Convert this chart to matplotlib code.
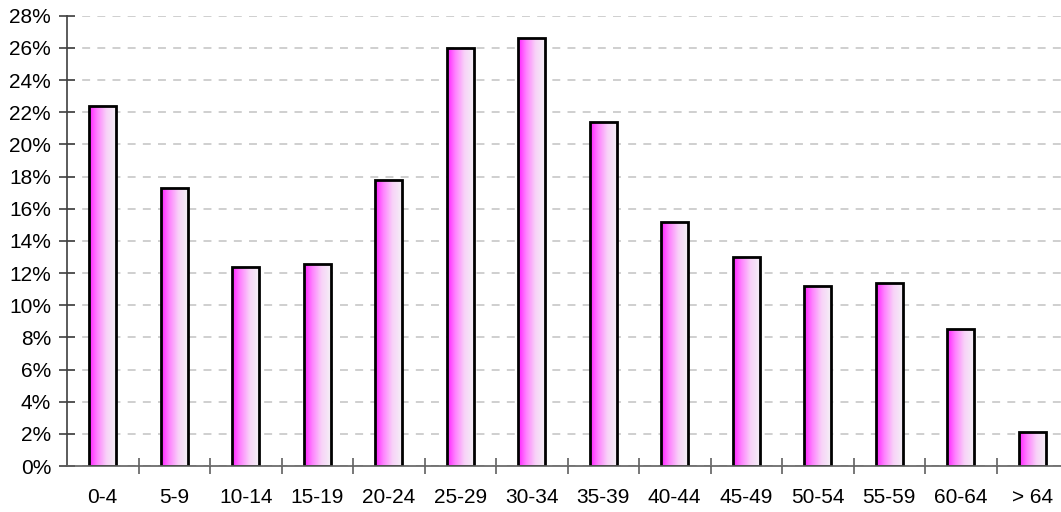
import matplotlib
matplotlib.use("Agg")
import matplotlib.pyplot as plt
import numpy as np
from matplotlib.colors import LinearSegmentedColormap
from matplotlib.patches import Rectangle
from matplotlib.ticker import FixedLocator, FuncFormatter

# Share of each age group (percent)
age_groups = ["0-4", "5-9", "10-14", "15-19", "20-24", "25-29", "30-34",
              "35-39", "40-44", "45-49", "50-54", "55-59", "60-64", "> 64"]
shares = [22.4, 17.3, 12.4, 12.55, 17.8, 26.0, 26.6,
          21.4, 15.2, 13.0, 11.2, 11.4, 8.5, 2.1]
y_ticks = list(range(0, 29, 2))

plt.rcParams["font.family"] = ["Liberation Sans", "DejaVu Sans"]

fig = plt.figure(figsize=(10.61, 5.12), dpi=100)
ax = fig.add_axes([67 / 1061, 46 / 512, 1001 / 1061, 450.3 / 512])

x = np.arange(len(age_groups))
bar_w = 0.375

# magenta-to-white horizontal gradient used inside every bar
grad_cmap = LinearSegmentedColormap.from_list(
    "bar_grad",
    [(0.0, "#ff1eff"), (0.3, "#ff80ff"), (0.65, "#f8d2f8"), (1.0, "#f4f0f6")])
grad = np.linspace(0, 1, 256).reshape(1, -1)

for xi, val in zip(x, shares):
    x0 = xi - bar_w / 2
    im = ax.imshow(grad, cmap=grad_cmap, aspect="auto",
                   extent=(x0, x0 + bar_w, 0, val), zorder=3,
                   interpolation="bilinear")
    rect = Rectangle((x0, 0), bar_w, val, facecolor="none",
                     edgecolor="black", linewidth=2.0, zorder=4)
    ax.add_patch(rect)
    im.set_clip_path(rect)

ax.set_xlim(-0.5, len(age_groups) - 0.5)
ax.set_ylim(0, 28)

# y axis
ax.yaxis.set_major_locator(FixedLocator(y_ticks))
ax.yaxis.set_major_formatter(FuncFormatter(lambda v, p: f"{int(v)}%"))
ax.tick_params(axis="y", direction="inout", length=12, width=1.2,
               color="#404040", labelsize=15, pad=5.5, labelcolor="black")

# x axis: labels centred on bars, tick marks between categories
ax.set_xticks(x)
ax.set_xticklabels(age_groups)
ax.set_xticks(np.arange(0.5, len(age_groups) - 0.5, 1.0), minor=True)
ax.tick_params(axis="x", which="major", length=0, labelsize=15, pad=16,
               labelcolor="black")
ax.tick_params(axis="x", which="minor", direction="inout", length=12,
               width=1.2, color="#606060")

# dashed horizontal grid
ax.grid(axis="y", color="#cccccc", linewidth=1.3,
        linestyle=(0, (4.4, 4.0)), zorder=0)
ax.set_axisbelow(True)

for side in ("top", "right"):
    ax.spines[side].set_visible(False)
ax.spines["left"].set_color("#404040")
ax.spines["left"].set_linewidth(1.2)
ax.spines["bottom"].set_color("#606060")
ax.spines["bottom"].set_linewidth(1.2)
ax.spines["left"].set_zorder(5)
ax.spines["bottom"].set_zorder(5)

fig.savefig("out.png", dpi=100)
